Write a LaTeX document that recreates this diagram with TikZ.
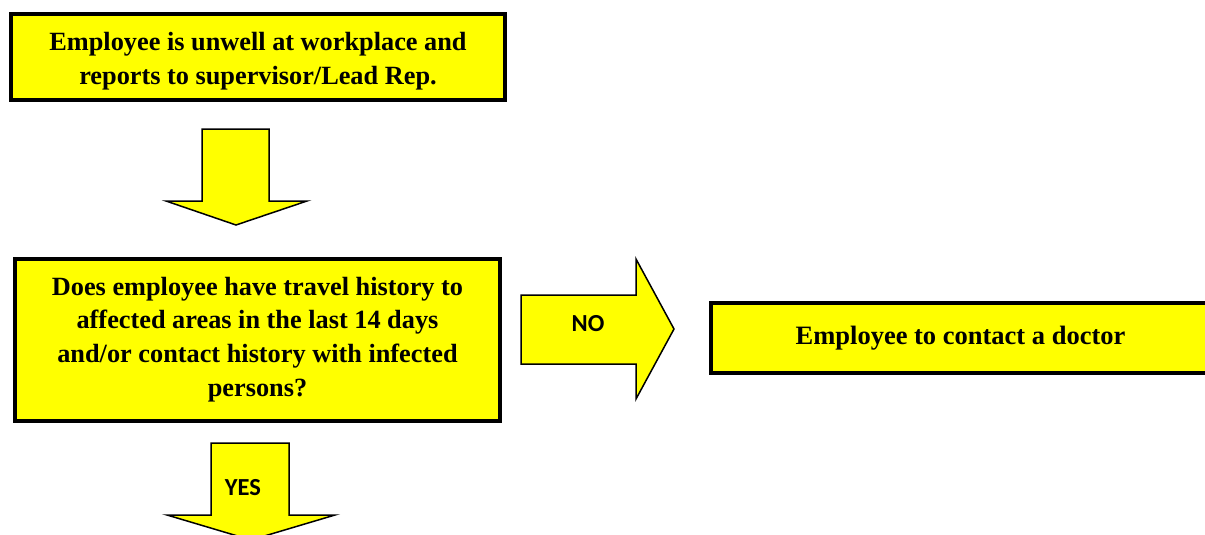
\documentclass[tikz,border=0pt]{standalone}
\usepackage{fontspec}
\setmainfont{Liberation Serif}
\newfontfamily\calib{Carlito}
\definecolor{yel}{RGB}{255,255,0}
\begin{document}
\begin{tikzpicture}[x=1pt,y=-1pt,
  box/.style={draw=black, line width=4pt, fill=yel, inner sep=0pt, align=center},
  btext/.style={inner sep=0pt, align=center},
  barrow/.style={draw=black, line width=1.5pt, fill=yel, line join=miter},
  lbl/.style={font=\calib\bfseries\fontsize{24.5}{28}\selectfont, inner sep=0pt}]
\useasboundingbox (0,0) rectangle (1205,535);
\clip (0,0) rectangle (1205,535);
\node[box, minimum width=494pt, minimum height=86pt] (b1) at (258,57) {};
\node[btext, font=\bfseries\fontsize{26.3}{34}\selectfont] (t1) at (258,61)
  {Employee is unwell at workplace and\\reports to supervisor/Lead Rep.};
\node[box, minimum width=485pt, minimum height=162pt,
  font=\bfseries\fontsize{26.3}{33.8}\selectfont] (b2) at (257.5,339.5)
  {Does employee have travel history to\\affected areas in the last 14 days\\and/or contact history with infected\\persons?};
\node[box, minimum width=499pt, minimum height=70pt,
  font=\bfseries\fontsize{26.5}{30}\selectfont] (b3) at (960.5,338)
  {Employee to contact a doctor};
% block arrows
\draw[barrow] (202,129) -- (269,129) -- (269,201) -- (307,201) -- (236,225) -- (166,201) -- (202,201) -- cycle;
\draw[barrow] (521,295) -- (636,295) -- (636,259) -- (674,329) -- (636,399) -- (636,364) -- (521,364) -- cycle;
\draw[barrow] (211,443) -- (289,443) -- (289,515) -- (335,515) -- (251,540) -- (167,515) -- (211,515) -- cycle;
\node[lbl] (no) at (588,324) {NO};
\node[lbl] (yes) at (243,488) {YES};
\end{tikzpicture}
\end{document}
